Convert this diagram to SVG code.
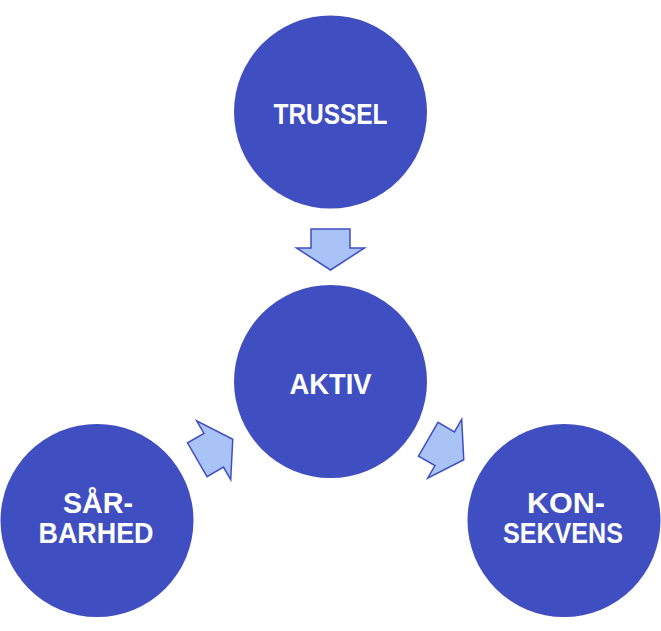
<svg xmlns="http://www.w3.org/2000/svg" width="661" height="631" viewBox="0 0 661 631">
<defs>
<style>
.node circle{fill:#3F4FC1}
.node text{fill:#ffffff;font-family:"Liberation Sans",Arial,sans-serif;font-weight:bold;font-size:30px;text-anchor:middle}
.arrow{fill:#A9C3F6;stroke:#3F4FC1;stroke-width:1.5;stroke-linejoin:miter}
</style>
<polygon id="arr" points="-19.5,-20.5 19.5,-20.5 19.5,-1.5 34,-1.5 0,20.5 -34,-1.5 -19.5,-1.5"/>
</defs>
<rect width="661" height="631" fill="#ffffff"/>
<g id="connectors">
<use href="#arr" class="arrow" transform="translate(330.5,249.5)"/>
<use href="#arr" class="arrow" transform="translate(215,449.5) rotate(-120)"/>
<use href="#arr" class="arrow" transform="translate(446,449.5) rotate(-60)"/>
</g>
<g id="trussel" class="node">
<circle cx="330.5" cy="112" r="96.5"/>
<text x="330.5" y="123.5" textLength="114" lengthAdjust="spacingAndGlyphs">TRUSSEL</text>
</g>
<g id="aktiv" class="node">
<circle cx="330.5" cy="381.5" r="96.5"/>
<text x="330.5" y="393.5" textLength="82" lengthAdjust="spacingAndGlyphs">AKTIV</text>
</g>
<g id="saarbarhed" class="node">
<circle cx="97" cy="520.5" r="96.5"/>
<text x="98" y="512.5" textLength="70" lengthAdjust="spacingAndGlyphs">SÅR-</text>
<text x="96" y="542.5" textLength="115" lengthAdjust="spacingAndGlyphs">BARHED</text>
</g>
<g id="konsekvens" class="node">
<circle cx="564" cy="520.5" r="96.5"/>
<text x="566" y="512.5" textLength="78" lengthAdjust="spacingAndGlyphs">KON-</text>
<text x="563" y="542.5" textLength="120" lengthAdjust="spacingAndGlyphs">SEKVENS</text>
</g>
</svg>
